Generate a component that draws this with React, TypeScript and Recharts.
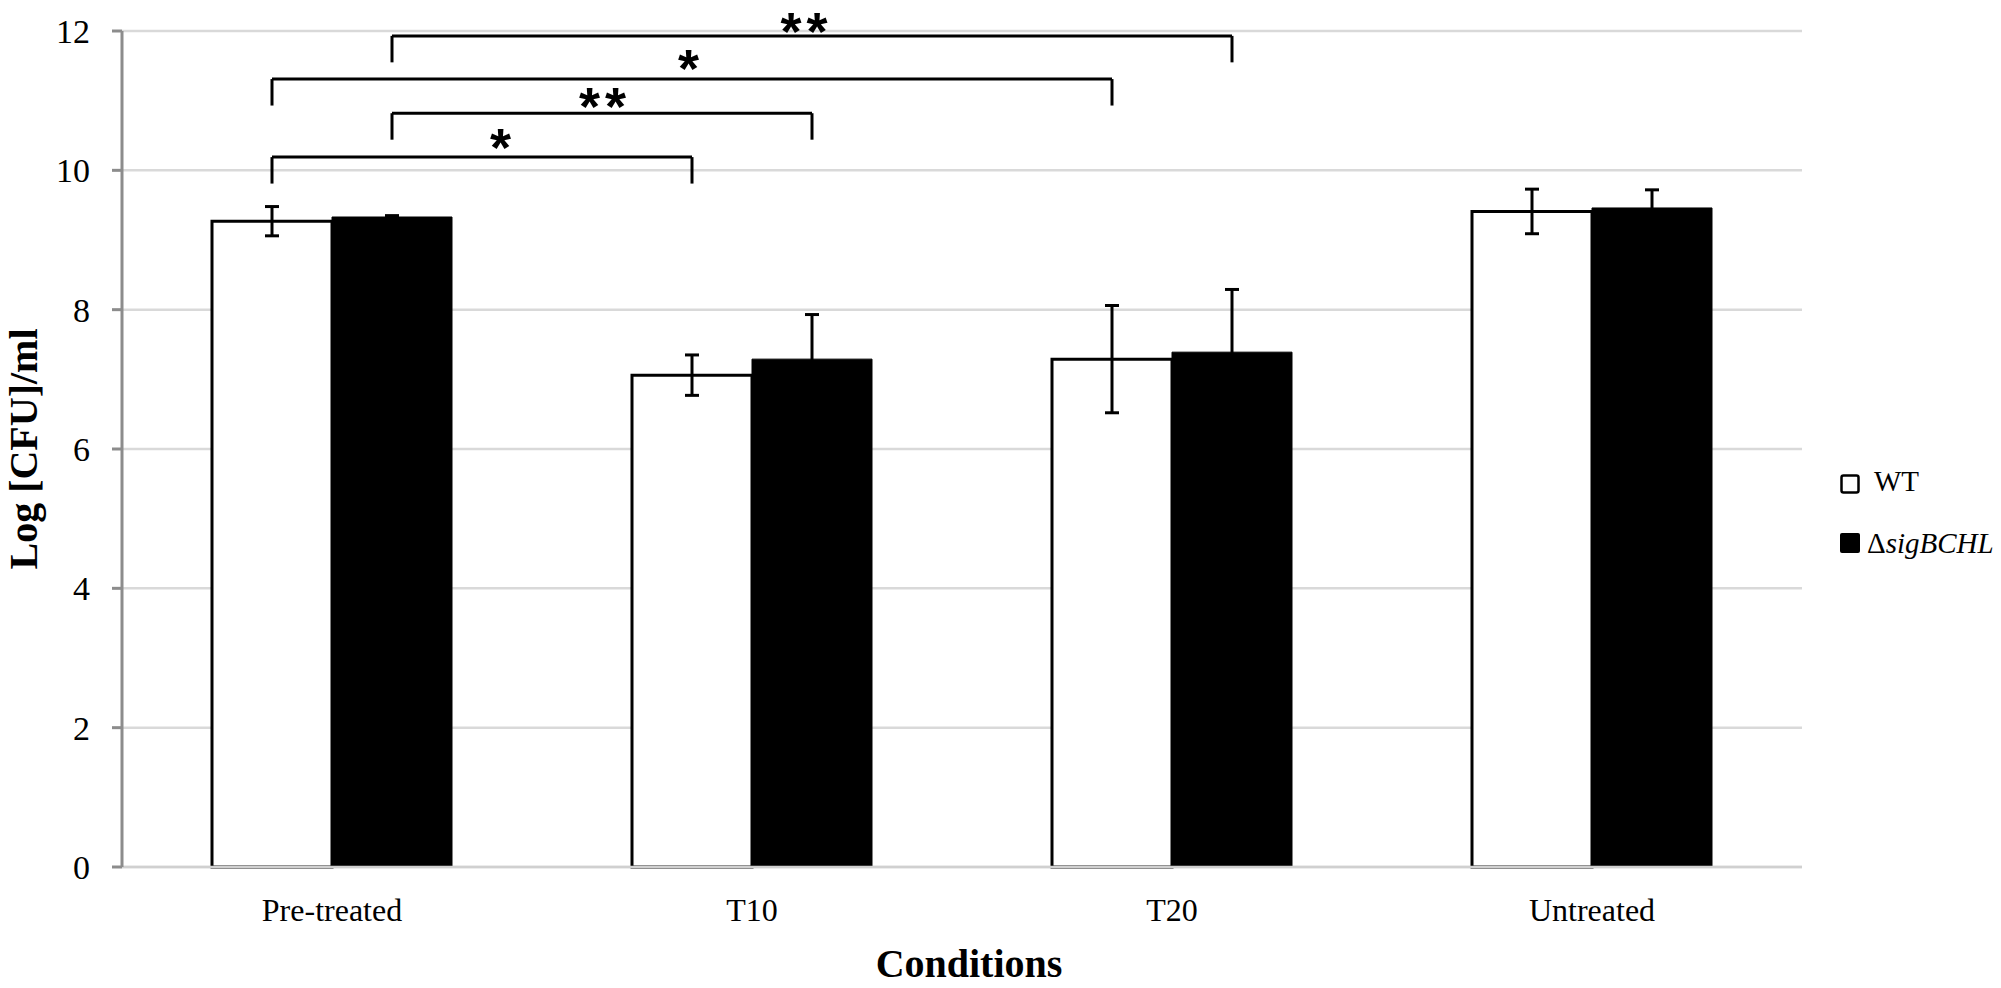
import React from 'react';
import {
  BarChart,
  Bar,
  XAxis,
  YAxis,
  CartesianGrid,
  ErrorBar,
  ReferenceLine,
  ReferenceDot,
} from 'recharts';

// ---------- data ----------
const categories = ['Pre-treated', 'T10', 'T20', 'Untreated'];
const wtMeans = [9.27, 7.06, 7.29, 9.41];
const wtErrors = [0.21, 0.29, 0.77, 0.32];
const mutMeans = [9.33, 7.29, 7.39, 9.46];
const mutErrors = [0.02, 0.64, 0.9, 0.26];
const yTicks = [0, 2, 4, 6, 8, 10, 12];

// significance brackets (category index, series, height)
const sigFrom = [0, 0, 0, 0];
const sigTo = [1, 1, 2, 2];
const sigSeries = ['wt', 'mut', 'wt', 'mut'];
const sigLevel = [10.19, 10.82, 11.31, 11.93];
const sigLeg = 0.38;
const sigLabel = ['*', '**', '*', '**'];
const sigLabelX = [0.407, 0.65, 0.855, 1.13];
const sigLabelY = [10.5, 11.08, 11.62, 12.16];

// ---------- layout ----------
const W = 2001;
const H = 988;
const MARGIN = { top: 31, right: 199, left: 0, bottom: 0 };
const Y_AXIS_W = 122;
const X_AXIS_H = 121;
const PLOT_W = W - MARGIN.left - MARGIN.right - Y_AXIS_W;
const BAR_SIZE = 120;
const BAND = PLOT_W / categories.length;
const SERIES_OFFSET = BAR_SIZE / 2 / BAND;

const data = categories.map((c, i) => ({
  name: c,
  idx: i,
  wt: wtMeans[i],
  wtErr: wtErrors[i],
  mut: mutMeans[i],
  mutErr: mutErrors[i],
}));

const serif = '"Liberation Serif", "Times New Roman", Times, serif';
const sans = '"Liberation Sans", Arial, Helvetica, sans-serif';

const seriesX = (idx: number, s: string) =>
  idx + (s === 'wt' ? -SERIES_OFFSET : SERIES_OFFSET);

const YLabel = (props: any) => {
  const vb = props.viewBox || {};
  const x = vb.x + 37;
  const y = vb.y + vb.height / 2;
  return (
    <text
      x={x}
      y={y}
      transform={`rotate(-90, ${x}, ${y})`}
      textAnchor="middle"
      fontFamily={serif}
      fontWeight="bold"
      fontSize={40}
      fill="#000"
    >
      Log [CFU]/ml
    </text>
  );
};

const XLabel = (props: any) => {
  const vb = props.viewBox || {};
  return (
    <text
      x={vb.x + vb.width / 2 + 7}
      y={vb.y + 110}
      textAnchor="middle"
      fontFamily={serif}
      fontWeight="bold"
      fontSize={40}
      fill="#000"
    >
      Conditions
    </text>
  );
};

export default function App() {
  const brackets: React.ReactNode[] = [];
  sigFrom.forEach((from, i) => {
    const x1 = seriesX(from, sigSeries[i]);
    const x2 = seriesX(sigTo[i], sigSeries[i]);
    const y = sigLevel[i];
    const segs = [
      [
        { x: x1, y: y - sigLeg },
        { x: x1, y },
      ],
      [
        { x: x1, y },
        { x: x2, y },
      ],
      [
        { x: x2, y },
        { x: x2, y: y - sigLeg },
      ],
    ];
    segs.forEach((seg, j) => {
      brackets.push(
        <ReferenceLine
          key={`b${i}-${j}`}
          xAxisId="num"
          segment={seg as any}
          stroke="#000"
          strokeWidth={3}
          ifOverflow="visible"
        />
      );
    });
    brackets.push(
      <ReferenceDot
        key={`s${i}`}
        xAxisId="num"
        x={sigLabelX[i]}
        y={sigLabelY[i]}
        r={0}
        ifOverflow="visible"
        shape={(p: any) => (
          <text
            x={p.cx}
            y={p.cy + 30}
            textAnchor="middle"
            fontFamily={sans}
            fontWeight="bold"
            fontSize={54}
            letterSpacing={5}
            fill="#000"
          >
            {sigLabel[i]}
          </text>
        )}
      />
    );
  });

  return (
    <div style={{ position: 'absolute', left: 0, top: 0, width: W, height: H, background: '#fff' }}>
      <BarChart
        width={W}
        height={H}
        data={data}
        margin={MARGIN}
        barGap={0}
        barSize={BAR_SIZE}
      >
        <CartesianGrid vertical={false} stroke="#d9d9d9" strokeWidth={2.5} />
        <XAxis
          dataKey="name"
          height={X_AXIS_H}
          axisLine={{ stroke: '#d0d0d0', strokeWidth: 2.5 }}
          tickLine={false}
          tickSize={0}
          tickMargin={31}
          tick={{ fontFamily: serif, fontSize: 32, fill: '#000' }}
          label={(p: any) => <XLabel {...p} />}
        />
        <XAxis
          xAxisId="num"
          dataKey="idx"
          type="number"
          domain={[0, categories.length - 1]}
          padding={{ left: BAND / 2, right: BAND / 2 }}
          allowDataOverflow
          hide
        />
        <YAxis
          width={Y_AXIS_W}
          domain={[0, 12]}
          ticks={yTicks}
          interval={0}
          axisLine={{ stroke: '#8c8c8c', strokeWidth: 3 }}
          tickLine={{ stroke: '#8c8c8c', strokeWidth: 3 }}
          tickSize={10}
          tickMargin={22}
          tick={{ fontFamily: serif, fontSize: 34, fill: '#000' }}
          label={(p: any) => <YLabel {...p} />}
        />
        <Bar dataKey="wt" fill="#fff" stroke="#000" strokeWidth={3} isAnimationActive={false}>
          <ErrorBar dataKey="wtErr" width={7} strokeWidth={3} stroke="#000" direction="y" isAnimationActive={false} />
        </Bar>
        <Bar dataKey="mut" fill="#000" stroke="#000" strokeWidth={1} isAnimationActive={false}>
          <ErrorBar dataKey="mutErr" width={7} strokeWidth={3} stroke="#000" direction="y" isAnimationActive={false} />
        </Bar>
        {brackets}
      </BarChart>
      <svg
        width={171}
        height={110}
        style={{ position: 'absolute', left: 1830, top: 460 }}
      >
        <rect x={11.5} y={15.5} width={17} height={17} rx={2} fill="#fff" stroke="#000" strokeWidth={2.5} />
        <text x={44} y={31} fontFamily={serif} fontSize={29} fill="#000">
          WT
        </text>
        <rect x={10} y={73} width={20} height={20} rx={2} fill="#000" />
        <text x={37} y={93} fontFamily={serif} fontSize={29} fill="#000">
          <tspan>Δ</tspan>
          <tspan fontStyle="italic">sigBCHL</tspan>
        </text>
      </svg>
    </div>
  );
}
